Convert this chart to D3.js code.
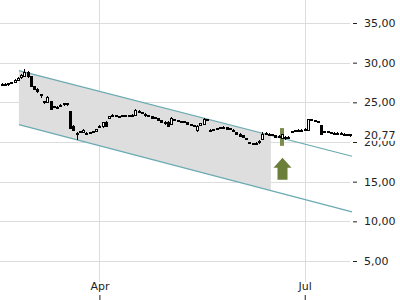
<!DOCTYPE html>
<html><head><meta charset="utf-8">
<script src="https://cdn.jsdelivr.net/npm/d3@7"></script>
<style>html,body{margin:0;padding:0;background:#fff;}svg{display:block;font-family:"DejaVu Sans",sans-serif;}</style>
</head><body><svg id="c" width="400" height="300"></svg>
<script>
const opens  = [27.1,27.3,27.2,27.4,27.5,27.8,28.1,28.3,28.7,28.2,27.0,26.6,26.0,25.1,25.0,25.1,24.4,24.4,24.5,24.8,24.7,23.8,22.0,21.1,21.2,21.2,21.1,21.1,21.2,21.3,21.9,21.9,22.5,23.0,23.3,23.3,23.2,23.2,23.3,23.3,23.2,23.4,23.9,23.7,23.5,23.3,23.2,23.1,22.9,22.7,22.5,22.5,22.2,22.8,22.7,22.6,22.5,22.4,22.2,22.1,21.4,22.1,22.2,22.8,21.5,21.5,21.6,21.7,21.8,21.8,21.7,21.5,21.2,21.0,20.8,20.4,19.9,19.8,19.7,19.9,20.3,21.1,21.0,20.9,20.8,20.7,20.5,20.6,20.5,21.2,21.3,21.4,21.5,21.5,21.5,22.8,22.7,22.6,22.1,21.2,21.3,21.2,21.1,21.0,21.1,21.0,20.9,20.9];
const highs  = [27.5,27.4,27.5,27.6,28.0,28.2,28.6,29.2,28.9,28.3,27.1,26.8,26.1,25.2,25.8,25.2,24.6,24.5,24.8,24.9,24.9,23.9,22.2,21.3,21.4,21.7,21.2,21.3,21.4,21.7,22.1,22.5,22.6,23.3,23.5,23.4,23.3,23.4,23.4,23.4,23.5,24.2,24.0,23.8,23.6,23.4,23.3,23.2,23.0,22.8,22.6,22.6,23.2,22.9,22.8,22.7,22.7,22.5,22.3,22.2,22.1,22.4,23.0,22.9,21.6,21.7,21.8,21.9,22.0,21.9,21.8,21.6,21.3,21.1,20.9,20.5,20.0,19.9,20.0,20.2,21.3,21.2,21.1,21.0,20.9,20.9,21.0,20.7,20.7,21.4,21.5,21.6,21.6,21.8,22.9,22.9,22.8,22.7,22.2,21.4,21.4,21.3,21.2,21.2,21.2,21.1,21.0,20.9];
const lows   = [27.0,27.0,27.1,27.3,27.4,27.7,28.0,28.2,28.1,26.9,26.5,26.2,25.6,24.8,24.9,24.0,24.3,24.1,24.4,24.6,24.6,21.6,21.4,20.3,21.1,21.1,20.9,21.0,21.1,21.2,21.8,21.8,21.9,22.9,23.2,23.1,23.1,23.2,23.2,23.1,23.1,23.3,23.6,23.5,23.2,23.1,22.9,22.9,22.6,22.4,22.2,21.9,22.1,22.6,22.5,22.4,22.4,22.1,22.0,21.9,21.3,22.0,22.1,22.6,21.3,21.4,21.5,21.6,21.7,21.5,21.5,21.2,20.9,20.6,20.5,20.2,19.7,19.6,19.6,19.8,20.2,20.9,20.8,20.8,20.5,20.5,20.4,20.3,20.4,21.1,21.2,21.3,21.3,21.4,21.4,22.6,22.5,22.4,20.9,21.1,21.1,21.0,20.9,20.9,20.9,20.8,20.8,20.6];
const closes = [27.3,27.2,27.4,27.5,27.8,28.0,28.4,28.7,28.3,27.0,26.6,26.4,25.8,25.0,25.6,24.1,24.5,24.3,24.6,24.7,24.8,21.7,21.5,20.9,21.3,21.5,21.0,21.2,21.3,21.6,22.0,22.4,22.0,23.2,23.3,23.2,23.2,23.3,23.3,23.2,23.4,24.0,23.7,23.6,23.3,23.2,23.0,23.0,22.7,22.5,22.3,22.0,23.0,22.7,22.6,22.5,22.6,22.2,22.1,22.0,22.0,22.3,22.8,22.7,21.4,21.6,21.7,21.8,21.8,21.6,21.6,21.3,21.0,20.7,20.6,20.3,19.8,19.7,19.8,20.1,20.9,21.0,20.9,20.9,20.6,20.6,20.9,20.4,20.6,21.3,21.4,21.5,21.5,21.6,22.8,22.7,22.6,22.5,21.0,21.3,21.2,21.1,21.0,21.1,21.0,20.9,20.9,20.77];

const xTickIdx = [30, 93];
const xTickLabels = ["Apr", "Jul"];
const yTicks = [5, 10, 15, 20, 25, 30, 35];
const lastPrice = 20.77;

// trend channel: [startIdx, endIdx], values on the upper and lower lines, shading end index
const channelIdx = [5.3, 107.5];
const channelUpper = [29.0, 18.2];
const channelLower = [22.2, 11.2];
const channelShadeEnd = 82.6;
const signalIdx = 86;

const n = closes.length;
const svg = d3.select("#c");
const plotR = 352;
const x = d3.scaleLinear().domain([-0.5, n - 0.5]).range([0, plotR]);
const y = d3.scaleLinear().domain([5, 35]).range([261, 23]);

// grid
svg.append("g").selectAll("line").data(yTicks).join("line")
  .attr("x1", 0).attr("x2", 350).attr("y1", d => Math.round(y(d)) + 0.5).attr("y2", d => Math.round(y(d)) + 0.5)
  .attr("stroke", "#dcdcdc").attr("stroke-width", 1);
svg.append("g").selectAll("line").data(xTickIdx).join("line")
  .attr("x1", d => Math.round(x(d)) + 0.5).attr("x2", d => Math.round(x(d)) + 0.5).attr("y1", 0).attr("y2", 282)
  .attr("stroke", "#dcdcdc").attr("stroke-width", 1);

// channel
const interp = (vals, i) => vals[0] + (vals[1] - vals[0]) * (i - channelIdx[0]) / (channelIdx[1] - channelIdx[0]);
const shadePts = [
  [channelIdx[0], interp(channelUpper, channelIdx[0])],
  [channelShadeEnd, interp(channelUpper, channelShadeEnd)],
  [channelShadeEnd, interp(channelLower, channelShadeEnd)],
  [channelIdx[0], interp(channelLower, channelIdx[0])]
];
svg.append("path")
  .attr("d", d3.line().x(d => x(d[0])).y(d => y(d[1]))(shadePts) + "Z")
  .attr("fill", "#dedede");
[channelUpper, channelLower].forEach(vals => {
  svg.append("line")
    .attr("x1", x(channelIdx[0])).attr("y1", y(vals[0]))
    .attr("x2", x(channelIdx[1])).attr("y2", y(vals[1]))
    .attr("stroke", "#6aaab2").attr("stroke-width", 1.2);
});

// signal highlight
const bw = 2;
svg.append("rect")
  .attr("x", Math.round(x(signalIdx)) - 2).attr("width", 4)
  .attr("y", y(highs[signalIdx]) - 6).attr("height", y(lows[signalIdx]) - y(highs[signalIdx]) + 13)
  .attr("fill", "#7a8d4c");

// candles
const g = svg.append("g").attr("shape-rendering", "crispEdges");
const idx = d3.range(n);
g.selectAll("line.w").data(idx).join("line")
  .attr("x1", i => Math.round(x(i)) + 0.5).attr("x2", i => Math.round(x(i)) + 0.5)
  .attr("y1", i => y(highs[i])).attr("y2", i => y(lows[i]))
  .attr("stroke", "#000").attr("stroke-width", 1);
g.selectAll("rect.b").data(idx).join("rect")
  .attr("x", i => Math.round(x(i)) - 1 + 0.5)
  .attr("width", 2)
  .attr("y", i => Math.min(y(opens[i]), y(closes[i])))
  .attr("height", i => Math.max(1, Math.abs(y(opens[i]) - y(closes[i]))))
  .attr("fill", i => closes[i] >= opens[i] ? "#fff" : "#000")
  .attr("stroke", "#000").attr("stroke-width", 1);

// arrow
const ax = Math.round(x(signalIdx)) + 0.5;
const at = y(lows[signalIdx]) + 19;
svg.append("path")
  .attr("d", `M${ax},${at} L${ax + 9},${at + 10} L${ax + 5},${at + 10} L${ax + 5},${at + 22} L${ax - 5},${at + 22} L${ax - 5},${at + 10} L${ax - 9},${at + 10} Z`)
  .attr("fill", "#6b7f3b");

// y axis
const yAxis = svg.append("g").attr("transform", `translate(${plotR},0)`)
  .call(d3.axisRight(y).tickValues(yTicks).tickSize(5).tickPadding(7)
    .tickFormat(d => d3.format(".2f")(d).replace(".", ",")));
yAxis.select(".domain").remove();
yAxis.selectAll("line").attr("stroke", "#222").attr("x1", 1);
yAxis.selectAll("text").attr("font-size", 11).attr("fill", "#222").attr("font-family", "DejaVu Sans");

// last price label
const lp = svg.append("g").attr("transform", `translate(${plotR},${y(lastPrice)})`);
lp.append("rect").attr("x", 8).attr("y", -6).attr("width", 40).attr("height", 11).attr("fill", "#fff");
lp.append("text").attr("x", 12).attr("dy", "0.32em").attr("font-size", 11).attr("fill", "#222")
  .attr("font-family", "DejaVu Sans").text(d3.format(".2f")(lastPrice).replace(".", ","));

// x axis
const xAxis = svg.append("g").attr("transform", "translate(0,300)")
  .call(d3.axisTop(x).tickValues(xTickIdx).tickSize(5).tickPadding(5).tickFormat((d, i) => xTickLabels[i]));
xAxis.select(".domain").remove();
xAxis.selectAll("line").attr("stroke", "#222");
xAxis.selectAll("text").attr("font-size", 11).attr("fill", "#222").attr("font-family", "DejaVu Sans");
</script></body></html>
